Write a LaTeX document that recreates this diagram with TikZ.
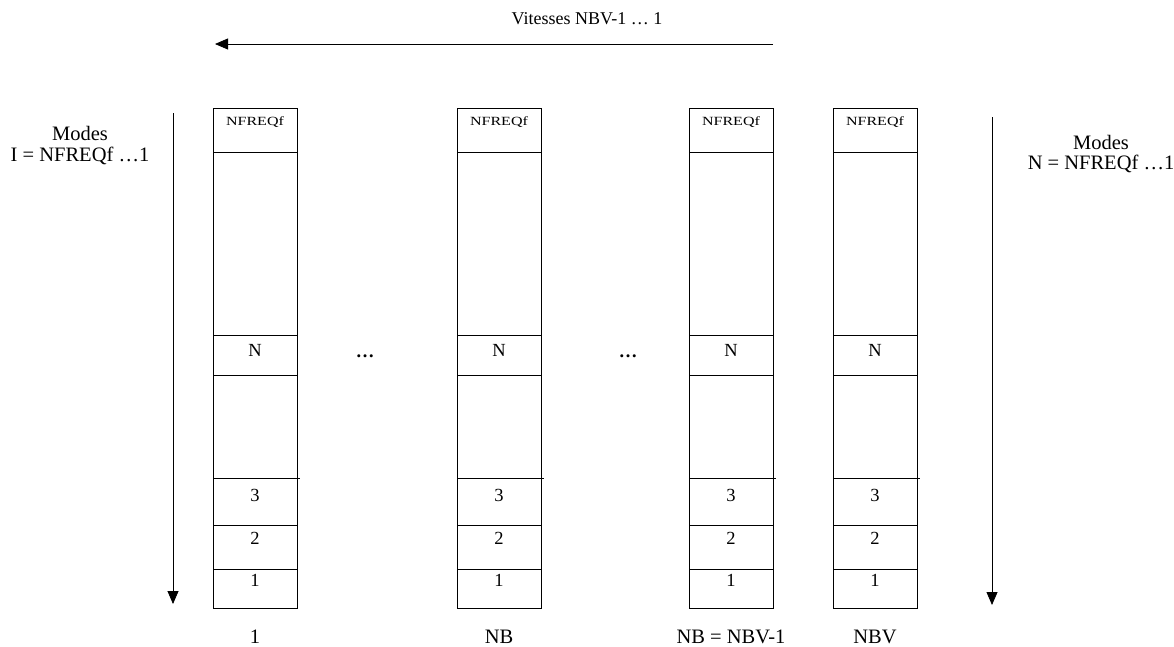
\documentclass[tikz,border=0pt]{standalone}
\usepackage{fontspec}
\setmainfont{Liberation Serif}
\usetikzlibrary{arrows.meta}

\begin{document}
\begin{tikzpicture}[x=1pt, y=-1pt, line width=0.8pt,
        txt/.style={font=\fontsize{20.5}{20}\selectfont, inner sep=0pt},
        cell/.style={font=\fontsize{18.5}{20}\selectfont, inner sep=0pt},
        small/.style={font=\fontsize{12.5}{14}\selectfont, inner sep=0pt},
        arr/.style={-{Triangle[length=13pt, width=11pt]}}]
    \useasboundingbox (0,0) rectangle (1174,646);
    % columns of modes
    \foreach \name/\x/\lab in {one/213/1, nb/457/NB, nbm/689/{NB = NBV-1}, nbv/833/NBV} {
        \draw (\x,108) rectangle (\x+84,608);
        \foreach \y in {152,335,375,525,569}
            \draw (\x,\y) -- (\x+84,\y);
        \draw (\x,478) -- (\x+87,478);
        \node[small] (\name-f) at (\x+42,122) {\scalebox{1.28}[1]{NFREQf}};
        \node[cell] (\name-n) at (\x+42,350) {N};
        \node[cell] (\name-3) at (\x+42,495) {3};
        \node[cell] (\name-2) at (\x+42,538) {2};
        \node[cell] (\name-1) at (\x+42,580) {1};
        \node[txt] (\name-lab) at (\x+42,637) {\lab};
    }
    \node[cell] (dots1) at (365,356) {\textbf{…}};
    \node[cell] (dots2) at (628,356) {\textbf{…}};
    % speeds
    \coordinate (vs) at (773,44);
    \coordinate (ve) at (215,44);
    \draw[arr] (vs) -- (ve);
    \node[cell, font=\fontsize{18}{20}\selectfont] (vit) at (587,19) {Vitesses NBV-1 … 1};
    % modes
    \coordinate (ls) at (173,113);
    \coordinate (le) at (173,604);
    \draw[arr] (ls) -- (le);
    \node[txt, align=center, font=\fontsize{20.5}{21}\selectfont] (modesI) at (80,146) {Modes\\I = NFREQf …1};
    \coordinate (rs) at (992,117);
    \coordinate (re) at (992,605);
    \draw[arr] (rs) -- (re);
    \node[txt, align=center, font=\fontsize{20.5}{20}\selectfont] (modesN) at (1101,154) {Modes\\N = NFREQf …1};
\end{tikzpicture}
\end{document}
